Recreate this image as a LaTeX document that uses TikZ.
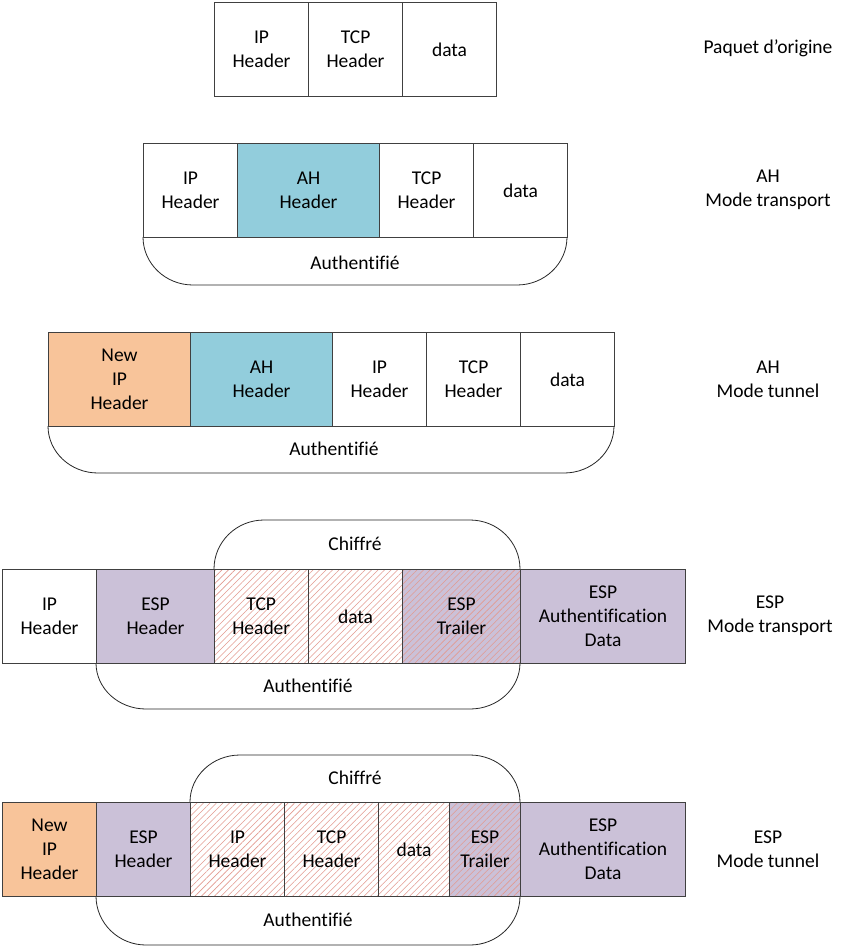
\documentclass[tikz,border=0pt]{standalone}
\usepackage{fontspec}
\setmainfont{Carlito}[Ligatures=NoCommon]
\usetikzlibrary{patterns.meta}
\definecolor{bord}{HTML}{404040}
\definecolor{orng}{HTML}{F8C49A}
\definecolor{teal}{HTML}{92CDDC}
\definecolor{lav}{HTML}{CBC1D8}
\definecolor{hatchc}{HTML}{E39A90}
\newcommand\boxfont{\fontsize{19.5}{24}\selectfont}
\tikzset{
  box/.style={draw=bord, line width=1.1pt, minimum height=94pt, inner sep=0pt, align=center, anchor=north west, font=\boxfont},
  hatched/.style={preaction={fill=#1}, pattern={Lines[angle=45,distance=4.6pt,line width=0.55pt]}, pattern color=hatchc},
  region/.style={draw=black!85, line width=0.8pt},
  lbl/.style={align=center, font=\boxfont, inner sep=0pt}
}
\begin{document}
\begin{tikzpicture}[x=1pt,y=-1pt]
\useasboundingbox (0,0) rectangle (848,948);
% ---------- Row 1
\node[box, minimum width=94pt] (r1ip) at (214,2) {IP\\Header};
\node[box, minimum width=94pt] (r1tcp) at (308,2) {TCP\\Header};
\node[box, minimum width=94pt] (r1data) at (402,2) {data};
\node[lbl] (r1lbl) at (768,48) {Paquet d’origine};
% ---------- Row 2
\draw[region] (143,237) arc[start angle=180, end angle=90, x radius=50, y radius=48] -- (517,285) arc[start angle=90, end angle=0, x radius=50, y radius=48];
\node[box, minimum width=94pt] (r2ip) at (143,143) {IP\\Header};
\node[box, minimum width=142pt, fill=teal] (r2ah) at (237,143) {AH\\Header};
\node[box, minimum width=94pt] (r2tcp) at (379,143) {TCP\\Header};
\node[box, minimum width=94pt] (r2data) at (473,143) {data};
\node[lbl] (r2auth) at (355,263) {Authentifié};
\node[lbl] (r2lbl) at (768,190) {AH\\Mode transport};
% ---------- Row 3
\draw[region] (48,426) arc[start angle=180, end angle=90, x radius=50, y radius=47] -- (564,473) arc[start angle=90, end angle=0, x radius=50, y radius=47];
\node[box, minimum width=142pt, fill=orng] (r3new) at (48,332) {New\\IP\\Header};
\node[box, minimum width=142pt, fill=teal] (r3ah) at (190,332) {AH\\Header};
\node[box, minimum width=94pt] (r3ip) at (332,332) {IP\\Header};
\node[box, minimum width=94pt] (r3tcp) at (426,332) {TCP\\Header};
\node[box, minimum width=94pt] (r3data) at (520,332) {data};
\node[lbl] (r3auth) at (334,449) {Authentifié};
\node[lbl] (r3lbl) at (768,379) {AH\\Mode tunnel};
% ---------- Row 4
\draw[region] (214,569) arc[start angle=180, end angle=270, x radius=50, y radius=49] -- (470,520) arc[start angle=270, end angle=360, x radius=50, y radius=49];
\draw[region] (96,663) arc[start angle=180, end angle=90, x radius=50, y radius=46] -- (470,709) arc[start angle=90, end angle=0, x radius=50, y radius=46];
\node[box, minimum width=94pt] (r4ip) at (2,569) {IP\\Header};
\node[box, minimum width=118pt, fill=lav] (r4esp) at (96,569) {ESP\\Header};
\node[box, minimum width=94pt, hatched=white] (r4tcp) at (214,569) {TCP\\Header};
\node[box, minimum width=94pt, hatched=white] (r4data) at (308,569) {data};
\node[box, minimum width=118pt, hatched=lav] (r4trl) at (402,569) {ESP\\Trailer};
\node[box, minimum width=165pt, fill=lav] (r4auth) at (520,569) {ESP\\Authentification\\Data};
\node[lbl] (r4chif) at (355,544) {Chiffré};
\node[lbl] (r4authl) at (308,686) {Authentifié};
\node[lbl] (r4lbl) at (770,616) {ESP\\Mode transport};
% ---------- Row 5
\draw[region] (190,802) arc[start angle=180, end angle=270, x radius=50, y radius=47] -- (470,755) arc[start angle=270, end angle=360, x radius=50, y radius=47];
\draw[region] (96,896) arc[start angle=180, end angle=90, x radius=50, y radius=49] -- (470,945) arc[start angle=90, end angle=0, x radius=50, y radius=49];
\node[box, minimum width=94pt, fill=orng] (r5new) at (2,802) {New\\IP\\Header};
\node[box, minimum width=94pt, fill=lav] (r5esp) at (96,802) {ESP\\Header};
\node[box, minimum width=94pt, hatched=white] (r5ip) at (190,802) {IP\\Header};
\node[box, minimum width=94pt, hatched=white] (r5tcp) at (284,802) {TCP\\Header};
\node[box, minimum width=71pt, hatched=white] (r5data) at (378,802) {data};
\node[box, minimum width=71pt, hatched=lav] (r5trl) at (449,802) {ESP\\Trailer};
\node[box, minimum width=165pt, fill=lav] (r5auth) at (520,802) {ESP\\Authentification\\Data};
\node[lbl] (r5chif) at (355,778) {Chiffré};
\node[lbl] (r5authl) at (308,920) {Authentifié};
\node[lbl] (r5lbl) at (768,849) {ESP\\Mode tunnel};
\end{tikzpicture}
\end{document}
